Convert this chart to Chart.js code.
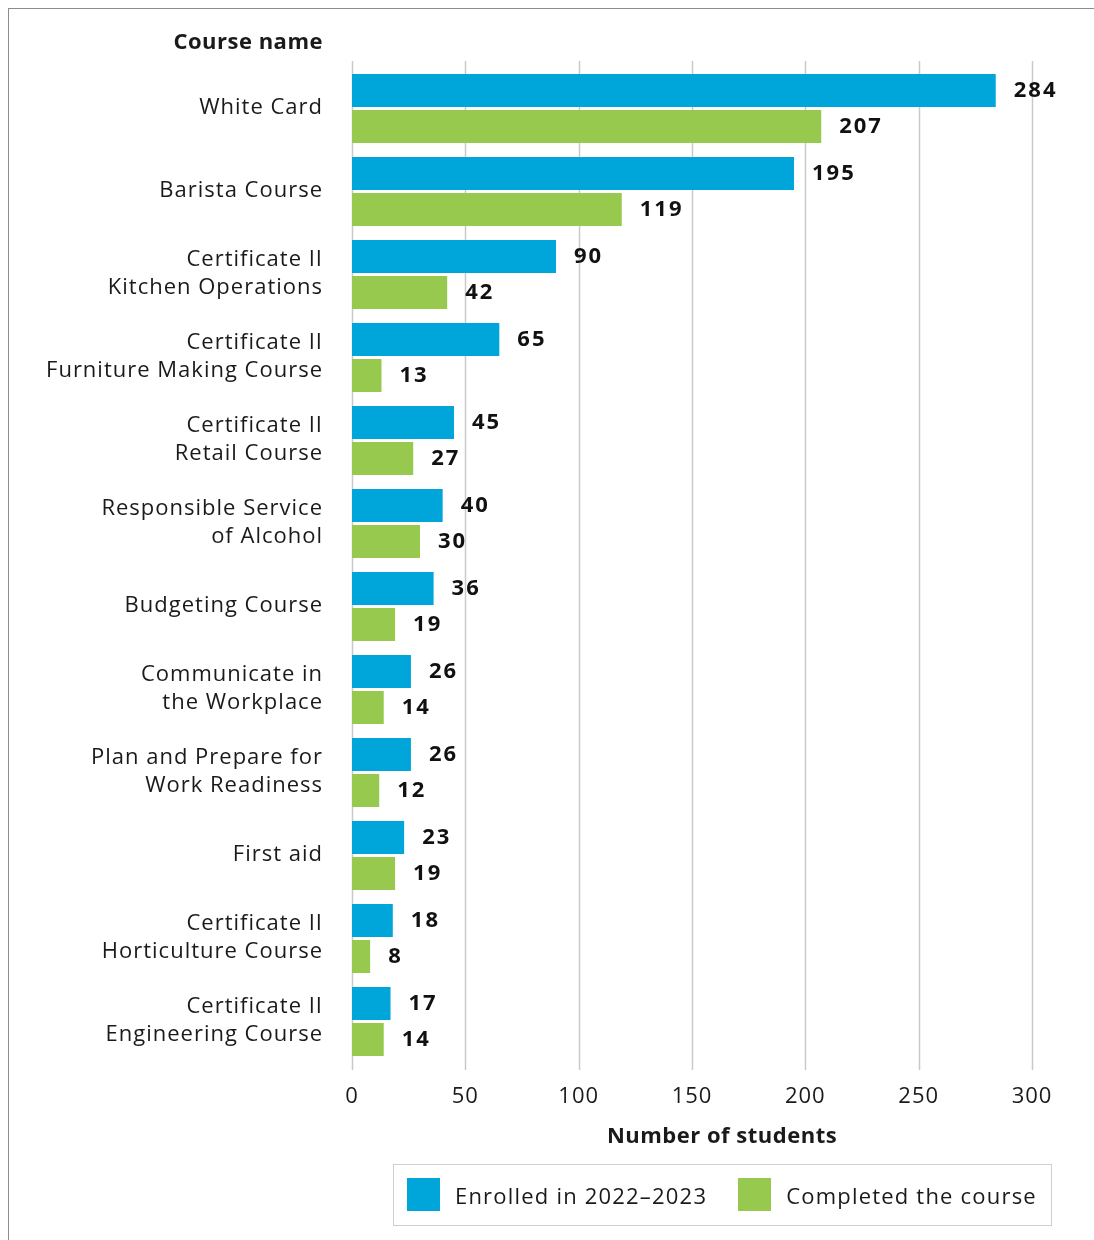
<!DOCTYPE html>
<html>
<head>
<meta charset="utf-8">
<script src="https://cdn.jsdelivr.net/npm/chart.js@4.4.1/dist/chart.umd.min.js"></script>
<style>
  html, body { margin: 0; padding: 0; background: #fff; }
  #wrap { position: relative; width: 1094px; height: 1240px; overflow: hidden; font-family: "Open Sans", sans-serif; color: #1a1a1a; }
  #frame { position: absolute; left: 8px; top: 8px; right: -10px; bottom: -10px; border-top: 1.5px solid #8c8c8c; border-left: 1.5px solid #8c8c8c; }
  canvas { position: absolute; left: 0; top: 0; }
  .ttl { position: absolute; font-weight: 700; font-size: 22px; letter-spacing: 0.5px; white-space: nowrap; line-height: 1; }
  #ytitle { right: calc(1094px - 323px); top: 29px; }
  #xtitle { left: 722px; top: 1123px; transform: translateX(-50%); }
  #legend { position: absolute; left: 393px; top: 1164px; width: 644px; height: 59px; border: 1.5px solid #cfcfcf; display: flex; align-items: center; padding-left: 13px; padding-bottom: 1px; box-sizing: content-box; }
  .item { display: flex; align-items: center; font-size: 22px; letter-spacing: 1.2px; white-space: nowrap; }
  .sw { width: 33px; height: 33px; margin-right: 15px; }
</style>
</head>
<body>
<div id="wrap">
  <div id="frame"></div>
  <canvas id="c" width="1094" height="1240"></canvas>
  <div class="ttl" id="ytitle">Course name</div>
  <div class="ttl" id="xtitle">Number of students</div>
  <div id="legend"></div>
</div>
<script>
// Courses, top to bottom
const courses = [
  "White Card",
  "Barista Course",
  ["Certificate II", "Kitchen Operations"],
  ["Certificate II", "Furniture Making Course"],
  ["Certificate II", "Retail Course"],
  ["Responsible Service", "of Alcohol"],
  "Budgeting Course",
  ["Communicate in", "the Workplace"],
  ["Plan and Prepare for", "Work Readiness"],
  "First aid",
  ["Certificate II", "Horticulture Course"],
  ["Certificate II", "Engineering Course"]
];
const enrolled  = [284, 195, 90, 65, 45, 40, 36, 26, 26, 23, 18, 17];
const completed = [207, 119, 42, 13, 27, 30, 19, 14, 12, 19, 8, 14];
const seriesNames = ["Enrolled in 2022\u20132023", "Completed the course"];
const xTicks = [0, 50, 100, 150, 200, 250, 300];

const BLUE = "#00a6da";
const GREEN = "#97c94f";
const FONT = '"Open Sans", sans-serif';

// slightly wider tracking for all canvas text
const trackingPlugin = {
  id: "tracking",
  beforeDraw(chart) { chart.ctx.letterSpacing = "1px"; }
};

// vertical grid lines, running a little past the plot at both ends
const gridPlugin = {
  id: "xgrid",
  beforeDatasetsDraw(chart) {
    const { ctx, chartArea, scales } = chart;
    ctx.save();
    ctx.strokeStyle = "#c9c9c9";
    ctx.lineWidth = 1.5;
    xTicks.forEach(v => {
      const x = Math.round(scales.x.getPixelForValue(v)) + 0.5;
      ctx.beginPath();
      ctx.moveTo(x, chartArea.top - 6);
      ctx.lineTo(x, chartArea.bottom + 7);
      ctx.stroke();
    });
    ctx.restore();
  }
};

// value labels to the right of each bar
const valuePlugin = {
  id: "values",
  afterDatasetsDraw(chart) {
    const { ctx } = chart;
    ctx.save();
    ctx.letterSpacing = "2px";
    ctx.font = "700 22px " + FONT;
    ctx.fillStyle = "#111";
    ctx.textAlign = "left";
    ctx.textBaseline = "middle";
    chart.data.datasets.forEach((ds, di) => {
      chart.getDatasetMeta(di).data.forEach((bar, i) => {
        ctx.fillText(String(ds.data[i]), bar.x + 18, bar.y);
      });
    });
    ctx.restore();
  }
};

const chart = new Chart(document.getElementById("c"), {
  type: "bar",
  data: {
    labels: courses,
    datasets: [
      { label: seriesNames[0], data: enrolled, backgroundColor: BLUE },
      { label: seriesNames[1], data: completed, backgroundColor: GREEN }
    ]
  },
  options: {
    indexAxis: "y",
    responsive: false,
    animation: false,
    devicePixelRatio: 1,
    categoryPercentage: 0.8675,
    barPercentage: 0.9167,
    layout: { padding: { top: 67, right: 62, left: 0, bottom: 0 } },
    plugins: { legend: { display: false }, tooltip: { enabled: false } },
    scales: {
      x: {
        min: 0, max: 300,
        afterFit(s) { s.height = 1240 - 1063; },
        afterBuildTicks(s) { s.ticks = xTicks.map(v => ({ value: v })); },
        grid: { display: false, drawTicks: false },
        border: { display: false },
        ticks: { padding: 21, color: "#1a1a1a", font: { family: FONT, size: 22 } }
      },
      y: {
        afterFit(s) { s.width = 352; },
        grid: { display: false, drawTicks: false },
        border: { display: false },
        ticks: { padding: 29, labelOffset: -1, color: "#1a1a1a", font: { family: FONT, size: 22, lineHeight: 1.27 } }
      }
    }
  },
  plugins: [trackingPlugin, gridPlugin, valuePlugin]
});

// legend built from the datasets
const legend = document.getElementById("legend");
chart.data.datasets.forEach((ds, i) => {
  const item = document.createElement("div");
  item.className = "item";
  if (i > 0) item.style.marginLeft = "31px";
  const sw = document.createElement("span");
  sw.className = "sw";
  sw.style.background = ds.backgroundColor;
  const t = document.createElement("span");
  t.textContent = ds.label;
  item.appendChild(sw);
  item.appendChild(t);
  legend.appendChild(item);
});
</script>
</body>
</html>
